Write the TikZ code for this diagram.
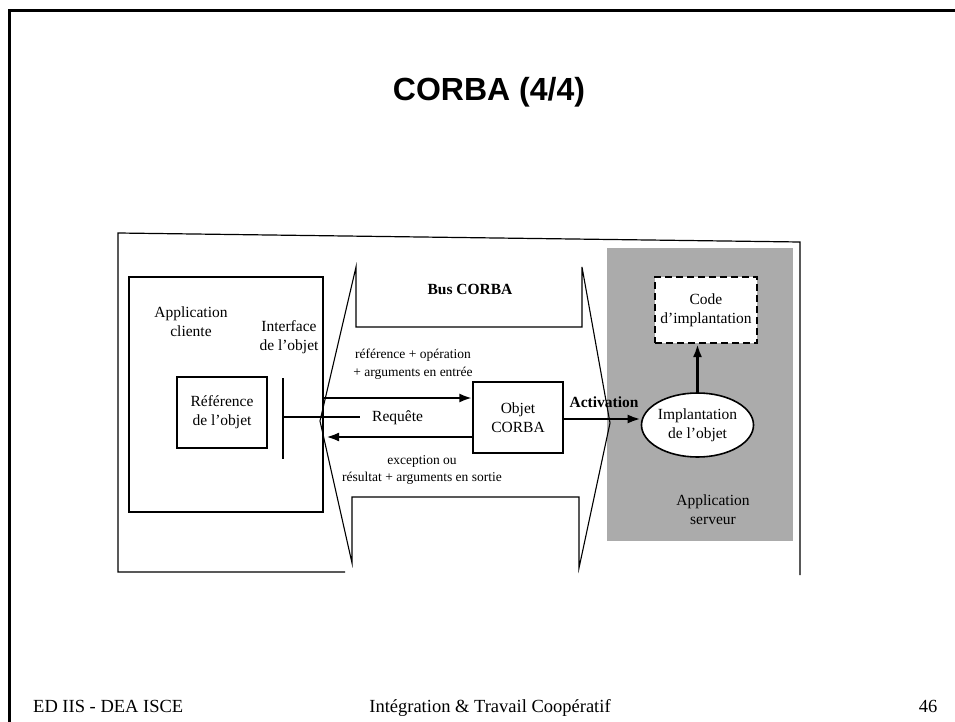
\documentclass[tikz,border=0pt]{standalone}
\usepackage{fontspec}
\setmainfont{Liberation Serif}
\newfontfamily\titlefont{Liberation Sans}
\usetikzlibrary{arrows.meta,shapes.geometric}

\tikzset{
  lbl/.style={font=\fontsize{15.5}{19}\selectfont, inner sep=0pt, align=center},
  small/.style={font=\fontsize{13.5}{17.5}\selectfont, inner sep=0pt, align=center},
  foot/.style={font=\fontsize{18.5}{22}\selectfont, inner sep=0pt, anchor=base},
  heavy/.style={line width=2.6pt},
}

\begin{document}
\begin{tikzpicture}[x=1pt, y=-1pt, >={Latex[length=13pt,width=9pt]}]
	\useasboundingbox (0,0) rectangle (955,722);
	% slide frame and title
	\draw[line width=3pt] (955,11) -- (9,11) -- (9,722);
	\node[inner sep=0pt, font=\titlefont\bfseries\fontsize{32}{36}\selectfont] (title) at (489,92) {CORBA (4/4)};
	% scanned figure frame
	\draw[line width=1.2pt] (345,572) -- (118,572) -- (118,233) -- (800,242) -- (800,575);
	% server side
	\fill[black!33] (607,248) rectangle (793,541);
	% bus outline
	\draw[line width=1.1pt] (320,421) -- (356,267) -- (356,327) -- (582,327) -- (582,267) -- (610,423) -- (579,568) -- (579,497) -- (352,497) -- (352,563) -- cycle;
	\node[lbl, font=\fontsize{15.5}{19}\selectfont\bfseries] (bus) at (470,289) {Bus CORBA};
	% client side
	\draw[line width=1.6pt] (129,277) rectangle (323,512);
	\node[lbl] (cli) at (191,322) {Application\\cliente};
	\node[lbl] (itf) at (289,337) {Interface\\de l'objet};
	\node[lbl, draw, line width=1.3pt, minimum width=90pt, minimum height=71pt] (ref) at (222,412.5) {Référence\\de l'objet};
	\coordinate (barT) at (283,378);
	\coordinate (barB) at (283,459);
	\draw[heavy] (barT) -- (barB);
	\coordinate (reqA) at (283,417);
	\coordinate (reqB) at (360,417);
	\draw[heavy] (reqA) -- (reqB);
	\node[lbl, anchor=west] (req) at (372,418) {Requête};
	% CORBA object
	\node[lbl, draw, line width=1.3pt, minimum width=90pt, minimum height=71pt] (obj) at (518,417.5) {Objet\\CORBA};
	\coordinate (outA) at (322,398);
	\coordinate (inB) at (326,437);
	\draw[heavy, ->] (outA) -- (outA -| obj.west);
	\draw[heavy, ->] (inB -| obj.west) -- (inB);
	\node[small] (args) at (413,364) {référence + opération\\+ arguments en entrée};
	\node[small] (res) at (422,470) {exception ou\\résultat + arguments en sortie};
	% implementation
	\node[lbl, ellipse, draw, fill=white, line width=1.6pt, minimum width=109pt, minimum height=64pt] (impl) at (697.5,425) {Implantation\\de l'objet};
	\node[lbl, draw, dashed, dash pattern=on 7pt off 4pt, fill=white, line width=2pt, minimum width=102pt, minimum height=66pt] (code) at (706,310) {Code\\d'implantation};
	\draw[heavy, ->] (obj.east |- 0,419) -- (impl.west |- 0,419);
	\node[lbl, font=\fontsize{15.5}{19}\selectfont\bfseries, anchor=base] (act) at (604,407) {Activation};
	\draw[heavy, ->] (impl.north) -- (impl.north |- code.south);
	\node[lbl] (srv) at (713,510) {Application\\serveur};
	% footer
	\node[foot, anchor=base west] (fl) at (33,712) {ED IIS - DEA ISCE};
	\node[foot] (fc) at (490,712) {Intégration \& Travail Coopératif};
	\node[foot] (fr) at (928,712) {46};
\end{tikzpicture}
\end{document}
